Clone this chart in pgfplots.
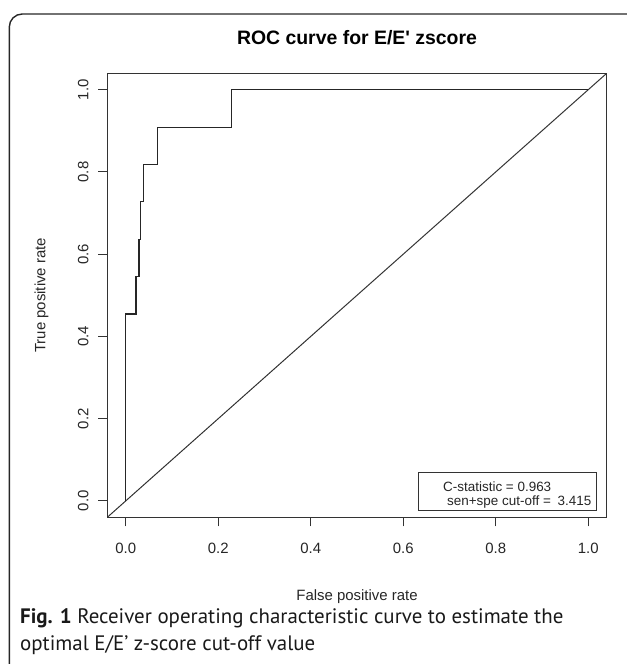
\documentclass[border=0pt]{standalone}
\usepackage{fontspec}
\setmainfont{Liberation Sans}[Ligatures=TeXOff]
\newfontfamily\capfont{PT Sans}
\usepackage{pgfplots}
\pgfplotsset{compat=1.18}

\begin{document}
\begin{tikzpicture}[x=1bp,y=1bp]
\useasboundingbox (0,0) rectangle (627,664);
% outer figure frame (cut at right and bottom)
\draw[line width=1.4bp, black!85, rounded corners=13bp] (9.3,-30) rectangle (645,650);
\node[anchor=base, font=\fontsize{19.5}{23}\selectfont\bfseries] at (357,619) {ROC curve for E/E' zscore};

\begin{axis}[
  at={(107.3bp,146.7bp)}, anchor=south west,
  width=499.4bp, height=444bp, scale only axis,
  xmin=-0.04, xmax=1.04, ymin=-0.04, ymax=1.04,
  axis line style={black!80, line width=1bp},
  xtick={0,0.2,0.4,0.6,0.8,1}, ytick={0,0.2,0.4,0.6,0.8,1},
  xticklabels={0.0,0.2,0.4,0.6,0.8,1.0},
  yticklabels={0.0,0.2,0.4,0.6,0.8,1.0},
  tick align=outside, tick pos=left, major tick length=9bp,
  tick style={black!80, line width=1bp},
  ticklabel style={font=\fontsize{15}{18}\selectfont, text=black!85},
  xticklabel style={anchor=base, yshift=-27bp},
  yticklabel style={xshift=-10bp, rotate=90, anchor=base},
  xlabel={False positive rate}, ylabel={True positive rate},
  label style={font=\fontsize{15}{18}\selectfont, text=black!85},
  xlabel style={at={(axis description cs:0.5,-0.188)}, anchor=base},
  ylabel style={at={(axis description cs:-0.1241,0.5)}, anchor=base, rotate=0},
]
% chance line
\addplot[black!80, line width=1bp] coordinates {(-0.04,-0.04) (1.04,1.04)};
% empirical ROC curve
\addplot[black!85, line width=1.2bp] coordinates {
  (0,0) (0,0.4545) (0.022,0.4545) (0.022,0.5455) (0.0285,0.5455)
  (0.0285,0.6364) (0.032,0.6364) (0.032,0.7273) (0.038,0.7273)
  (0.038,0.8182) (0.068,0.8182) (0.068,0.9091) (0.229,0.9091)
  (0.229,1) (1,1)
};
\end{axis}

% legend box
\draw[black!80, line width=1bp] (418,153) rectangle (596,191);
\node[anchor=base west, inner sep=0pt, font=\fontsize{13.5}{15}\selectfont, text=black!85] at (443,172) {C-statistic = 0.963};
\node[anchor=base west, inner sep=0pt, font=\fontsize{13.5}{15}\selectfont, text=black!85] at (447,158.5) {sen+spe cut-off =\hspace{0.5em}3.415};

% caption
\node[anchor=base west, inner sep=0pt, font=\capfont\fontsize{21}{25}\selectfont, text=black!90] at (20,40) {\textbf{Fig. 1} Receiver operating characteristic curve to estimate the};
\node[anchor=base west, inner sep=0pt, font=\capfont\fontsize{21}{25}\selectfont, text=black!90] at (20,13) {optimal E/E’ z-score cut-off value};
\end{tikzpicture}
\end{document}
